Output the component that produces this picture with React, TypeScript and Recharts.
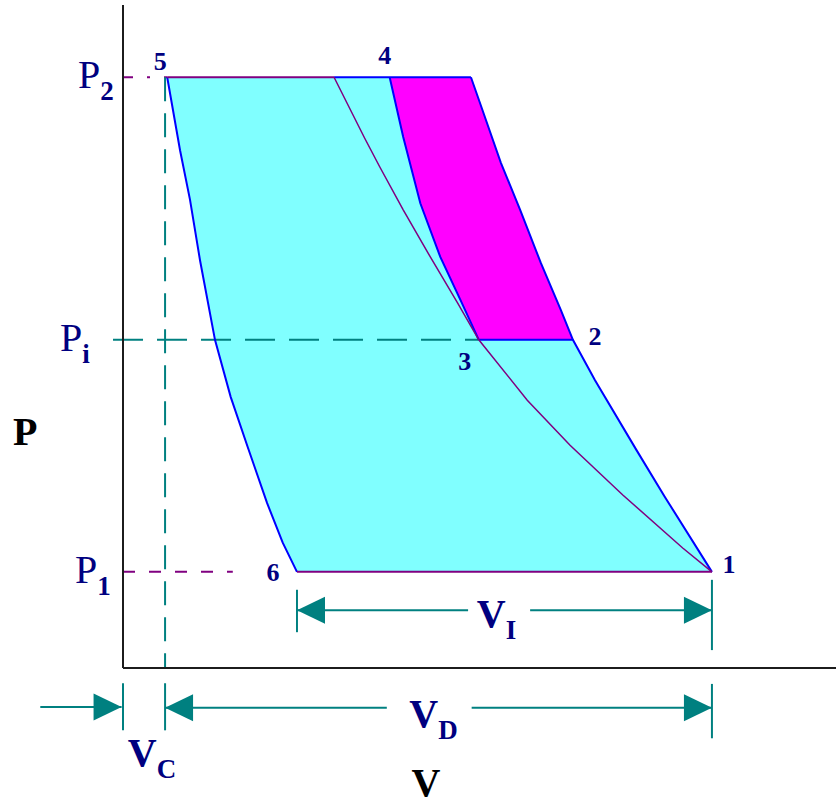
import React from 'react';
import { ComposedChart, Line, Area, XAxis, YAxis, ReferenceLine, ReferenceDot } from 'recharts';

const NAVY = '#000080';
const TEAL = '#008080';
const BLUE = '#0000ff';
const PURPLE = '#800080';
const CYAN = '#80ffff';
const MAGENTA = '#ff00ff';
const SERIF = '"Liberation Serif", "Times New Roman", serif';

// pressures / volumes (axis units 0..100)
const P1 = 14.5;
const PI = 49.5;
const P2 = 89.1;
const VC = 5.9;
const V6 = 24.4;
const V1 = 82.6;

const pTicks = [P1, PI, P2];
const pTickSubs = ['1', 'i', '2'];

// 5 -> 6 re-expansion of clearance gas
const reExpansion = [
  { v: 6.2, p: 89.1 }, { v: 8.0, p: 78.1 }, { v: 9.4, p: 70.6 }, { v: 10.8, p: 61.5 },
  { v: 12.9, p: 49.5 }, { v: 15.1, p: 40.9 }, { v: 17.5, p: 33.3 }, { v: 20.2, p: 24.9 },
  { v: 22.4, p: 18.9 }, { v: 24.4, p: 14.5 },
];

// single stage compression, listed from the top down to 1
const singleStage = [
  { v: 48.8, p: 89.1 }, { v: 50.4, p: 84.2 }, { v: 53.0, p: 76.2 }, { v: 55.7, p: 69.1 },
  { v: 58.6, p: 61.1 }, { v: 61.4, p: 54.0 }, { v: 63.1, p: 49.5 }, { v: 66.2, p: 43.4 },
  { v: 72.0, p: 32.9 }, { v: 76.0, p: 25.8 }, { v: 82.6, p: 14.5 },
];

// second stage 3 -> 4 after intercooling
const secondStage = [
  { v: 37.4, p: 89.1 }, { v: 39.3, p: 80.1 }, { v: 41.7, p: 70.1 }, { v: 44.5, p: 62.0 },
  { v: 47.5, p: 55.1 }, { v: 49.9, p: 49.5 },
];

// isothermal compression from 1
const isotherm = [
  { v: 29.6, p: 89.1 }, { v: 33.9, p: 79.9 }, { v: 36.0, p: 75.6 }, { v: 39.3, p: 69.1 },
  { v: 43.1, p: 62.0 }, { v: 46.9, p: 55.1 }, { v: 49.9, p: 49.5 }, { v: 56.7, p: 40.4 },
  { v: 62.7, p: 33.6 }, { v: 70.1, p: 26.1 }, { v: 78.5, p: 18.1 }, { v: 82.6, p: 14.5 },
];

const deliveryPurple = [{ v: 6.2, p: P2 }, { v: 29.6, p: P2 }];
const deliveryBlue = [{ v: 29.6, p: P2 }, { v: 48.8, p: P2 }];
const suction = [{ v: V6, p: P1 }, { v: V1, p: P1 }];
const intercool = [{ v: 49.9, p: PI }, { v: 63.1, p: PI }];

const stateNames = ['1', '2', '3', '4', '5', '6'];
const stateV = [V1, 63.1, 49.9, 37.4, 6.2, V6];
const stateP = [P1, PI, PI, P2, P2, P1];

// closed outlines for the fills
const cyanPoly = [...singleStage, ...[...reExpansion].reverse(), singleStage[0]];
const magentaPoly = [
  ...singleStage.filter((d) => d.p >= PI),
  ...[...secondStage].reverse(),
  singleStage[0],
];

const stateOffset: Record<string, [number, number]> = {
  '1': [17, 1], '2': [22, 5], '3': [-14, 30], '4': [-5, -13], '5': [-7, -7], '6': [-24, 9],
};
const tickShift = [-48, -63, -45];

const PTick = (props: any) => {
  const { x, y, payload } = props;
  const i = pTicks.indexOf(payload.value);
  if (i < 0) return null;
  return (
    <text x={x + tickShift[i]} y={y + 11} fill={NAVY} fontFamily={SERIF} fontSize={40}>
      P
      <tspan fontSize={27} fontWeight="bold" dy={12}>{pTickSubs[i]}</tspan>
    </text>
  );
};

const arrow = (head: 'start' | 'end') => (props: any) => {
  const { x1, y1, x2, y2 } = props;
  const [tx, ty, fx, fy] = head === 'start' ? [x1, y1, x2, y2] : [x2, y2, x1, y1];
  const len = Math.hypot(tx - fx, ty - fy) || 1;
  const ux = (tx - fx) / len;
  const uy = (ty - fy) / len;
  const bx = tx - ux * 28;
  const by = ty - uy * 28;
  const pts = `${tx},${ty} ${bx - uy * 13.5},${by + ux * 13.5} ${bx + uy * 13.5},${by - ux * 13.5}`;
  return (
    <g>
      <line x1={x1} y1={y1} x2={x2} y2={y2} stroke={TEAL} strokeWidth={2} />
      <polygon points={pts} fill={TEAL} />
    </g>
  );
};

const label = (main: string, sub: string, dx: number, dy: number, color = NAVY) => (p: any) => (
  <text x={p.cx + dx} y={p.cy + dy} textAnchor="middle" fill={color} fontFamily={SERIF} fontWeight="bold" fontSize={40}>
    {main}
    {sub && <tspan fontSize={27} dy={12}>{sub}</tspan>}
  </text>
);

const stateLabel = (name: string) => (p: any) => (
  <text x={p.cx + stateOffset[name][0]} y={p.cy + stateOffset[name][1]} textAnchor="middle" fill={NAVY}
    fontFamily={SERIF} fontWeight="bold" fontSize={26}>
    {name}
  </text>
);

const lineProps = { type: 'linear' as const, dot: false, activeDot: false, isAnimationActive: false, dataKey: 'p' };

export default function App() {
  return (
    <div style={{ position: 'absolute', left: 0, top: 0, background: '#fff' }}>
      <ComposedChart width={836} height={805} margin={{ top: 5, right: 0, bottom: 136, left: 122 }}>
        <XAxis type="number" dataKey="v" domain={[0, 100]} ticks={[0, 100]} tick={false} tickLine={false} height={1}
          axisLine={{ stroke: '#1c1c1c', strokeWidth: 2 }} />
        <YAxis type="number" domain={[0, 100]} ticks={pTicks} interval={0} tick={(p: any) => <PTick {...p} />}
          tickLine={false} tickSize={0} tickMargin={0} width={1} axisLine={{ stroke: '#1c1c1c', strokeWidth: 2 }} />

        <Area data={cyanPoly} dataKey="p" type="linear" fill={CYAN} fillOpacity={1} stroke="none"
          dot={false} activeDot={false} isAnimationActive={false} />
        <Area data={magentaPoly} dataKey="p" type="linear" fill={MAGENTA} fillOpacity={1} stroke="none"
          dot={false} activeDot={false} isAnimationActive={false} />

        <ReferenceLine segment={[{ x: -1.4, y: PI }, { x: 49.9, y: PI }]} stroke={TEAL} strokeWidth={2}
          strokeDasharray="30 14" ifOverflow="visible" />
        <ReferenceLine segment={[{ x: 0, y: P2 }, { x: 6.2, y: P2 }]} stroke={PURPLE} strokeWidth={2}
          strokeDasharray="10 14 3 14" ifOverflow="visible" />
        <ReferenceLine segment={[{ x: 0, y: P1 }, { x: 15.4, y: P1 }]} stroke={PURPLE} strokeWidth={2}
          strokeDasharray="12 14" ifOverflow="visible" />
        <ReferenceLine segment={[{ x: VC, y: P2 }, { x: VC, y: 0 }]} stroke={TEAL} strokeWidth={2}
          strokeDasharray="24 12" ifOverflow="visible" />

        <Line data={reExpansion} {...lineProps} stroke={BLUE} strokeWidth={2} />
        <Line data={singleStage} {...lineProps} stroke={BLUE} strokeWidth={2} />
        <Line data={secondStage} {...lineProps} stroke={BLUE} strokeWidth={2} />
        <Line data={intercool} {...lineProps} stroke={BLUE} strokeWidth={2} />
        <Line data={deliveryBlue} {...lineProps} stroke={BLUE} strokeWidth={2} />
        <Line data={deliveryPurple} {...lineProps} stroke={PURPLE} strokeWidth={2} />
        <Line data={suction} {...lineProps} stroke={PURPLE} strokeWidth={2} />
        <Line data={isotherm} {...lineProps} stroke={PURPLE} strokeWidth={1.5} />

        {/* extension bars */}
        <ReferenceLine segment={[{ x: V6, y: 11.8 }, { x: V6, y: 5.4 }]} stroke={TEAL} strokeWidth={2} ifOverflow="visible" />
        <ReferenceLine segment={[{ x: V1, y: 13.3 }, { x: V1, y: 2.7 }]} stroke={TEAL} strokeWidth={2} ifOverflow="visible" />
        <ReferenceLine segment={[{ x: 0, y: -2.3 }, { x: 0, y: -9.4 }]} stroke={TEAL} strokeWidth={2} ifOverflow="visible" />
        <ReferenceLine segment={[{ x: VC, y: -2.3 }, { x: VC, y: -9.4 }]} stroke={TEAL} strokeWidth={2} ifOverflow="visible" />
        <ReferenceLine segment={[{ x: V1, y: -2.4 }, { x: V1, y: -10.6 }]} stroke={TEAL} strokeWidth={2} ifOverflow="visible" />

        {/* dimension arrows */}
        <ReferenceLine segment={[{ x: V6, y: 8.7 }, { x: 48.4, y: 8.7 }]} ifOverflow="visible" shape={arrow('start')} />
        <ReferenceLine segment={[{ x: 57.1, y: 8.7 }, { x: V1, y: 8.7 }]} ifOverflow="visible" shape={arrow('end')} />
        <ReferenceLine segment={[{ x: VC, y: -6 }, { x: 37.0, y: -6 }]} ifOverflow="visible" shape={arrow('start')} />
        <ReferenceLine segment={[{ x: 48.9, y: -6 }, { x: V1, y: -6 }]} ifOverflow="visible" shape={arrow('end')} />
        <ReferenceLine segment={[{ x: -11.6, y: -5.9 }, { x: -0.2, y: -5.9 }]} ifOverflow="visible" shape={arrow('end')} />

        {/* dimension labels */}
        <ReferenceDot x={(V6 + V1) / 2} y={8.7} r={0} ifOverflow="visible" shape={label('V', 'I', -8, 17)} />
        <ReferenceDot x={(VC + V1) / 2} y={-6} r={0} ifOverflow="visible" shape={label('V', 'D', -5, 19)} />
        <ReferenceDot x={VC} y={-5.9} r={0} ifOverflow="visible" shape={label('V', 'C', -13, 59)} />
        <ReferenceDot x={42.5} y={-20.2} r={0} ifOverflow="visible" shape={label('V', '', 0, -6, '#000')} />
        <ReferenceDot x={-13.7} y={33.6} r={0} ifOverflow="visible" shape={label('P', '', 0, 0, '#000')} />

        {stateNames.map((n, i) => (
          <ReferenceDot key={n} x={stateV[i]} y={stateP[i]} r={0} ifOverflow="visible" shape={stateLabel(n)} />
        ))}
      </ComposedChart>
    </div>
  );
}
